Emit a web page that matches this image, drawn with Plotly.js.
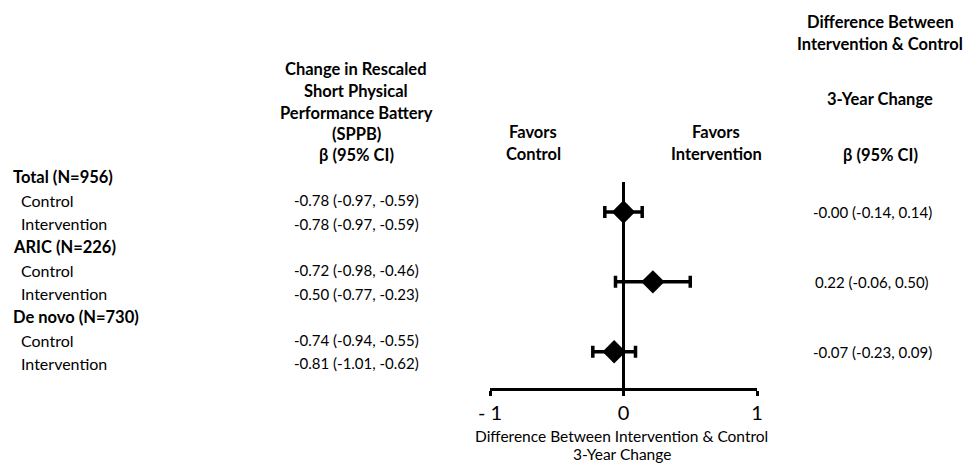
<!DOCTYPE html>
<html>
<head>
<meta charset="utf-8">
<script src="https://cdn.plot.ly/plotly-3.0.1.min.js"></script>
<style>html,body{margin:0;padding:0;background:#fff}#chart{width:972px;height:464px}</style>
</head>
<body>
<div id="chart"></div>
<script>
// ---- data ----
const groups = ['Total (N=956)', 'ARIC (N=226)', 'De novo (N=730)'];
const arms = ['Control', 'Intervention'];
const sppbBeta = [-0.78, -0.78, -0.72, -0.50, -0.74, -0.81];
const sppbLo   = [-0.97, -0.97, -0.98, -0.77, -0.94, -1.01];
const sppbHi   = [-0.59, -0.59, -0.46, -0.23, -0.55, -0.62];
const diffBeta = [-0.00, 0.22, -0.07];
const diffLo   = [-0.14, -0.06, -0.23];
const diffHi   = [0.14, 0.50, 0.09];
const xTicks = [-1, 0, 1];

// ---- helpers ----
const W = 972, H = 464;
const FONT = 'Lato, "Open Sans", sans-serif';
const fmt = v => ((v < 0 || Object.is(v, -0)) ? '-' : '') + Math.abs(v).toFixed(2);
const ci = (b, l, h) => fmt(b) + ' (' + fmt(l) + ', ' + fmt(h) + ')';
const ROW0 = 177, ROWH = 23.3;
const pyToRow = p => (p - ROW0) / ROWH;
const px = p => p / W;
const py = p => 1 - p / H;

const rowOfGroup = g => g * 3;
const pointRows = groups.map((g, k) => rowOfGroup(k) + 1.5);

const ann = [];
const txt = (x, yRow, text, opts) => ann.push(Object.assign({
  xref: 'paper', yref: 'y', x: x, y: yRow, text: text, showarrow: false,
  xanchor: 'left', yanchor: 'middle',
  font: {family: FONT, size: 16, color: '#000'}
}, opts || {}));
const hdr = (x, p, text, opts) => ann.push(Object.assign({
  xref: 'paper', yref: 'paper', x: x, y: py(p), text: '<b>' + text + '</b>', showarrow: false,
  xanchor: 'center', yanchor: 'middle',
  font: {family: FONT, size: 16.5, color: '#000'}
}, opts || {}));
const numFont = {family: FONT, size: 15, color: '#000'};

groups.forEach((g, k) => {
  const r = rowOfGroup(k);
  txt(px(11), r, '<b>' + g + '</b>', {font: {family: FONT, size: 16.5, color: '#000'}});
  arms.forEach((a, j) => {
    const idx = k * 2 + j;
    txt(px(19), r + 1 + j, a);
    txt(px(356), r + 1 + j, ci(sppbBeta[idx], sppbLo[idx], sppbHi[idx]), {xanchor: 'center', font: numFont});
  });
  txt(px(872), pointRows[k], ci(diffBeta[k], diffLo[k], diffHi[k]), {xanchor: 'center', font: numFont});
});

// column headers
['Change in Rescaled', 'Short Physical', 'Performance Battery', '(SPPB)', 'β (95% CI)']
  .forEach((t, i) => hdr(px(356), [69, 91, 113, 134, 155][i], t));
hdr(px(533), 132, 'Favors');
hdr(px(533), 154, 'Control');
hdr(px(716), 132, 'Favors');
hdr(px(716), 154, 'Intervention');
hdr(px(880), 22, 'Difference Between');
hdr(px(880), 44, 'Intervention &amp; Control');
hdr(px(880), 99, '3-Year Change');
hdr(px(880), 155, 'β (95% CI)');

// x-axis title (two lines)
const titleFont = {family: FONT, size: 15.5, color: '#000'};
ann.push({xref: 'paper', yref: 'paper', x: px(621), y: py(436), text: 'Difference Between Intervention &amp; Control',
  showarrow: false, xanchor: 'center', yanchor: 'middle', font: titleFont});
ann.push({xref: 'paper', yref: 'paper', x: px(622), y: py(454), text: '3-Year Change',
  showarrow: false, xanchor: 'center', yanchor: 'middle', font: titleFont});

const trace = {
  type: 'scatter', mode: 'markers',
  x: diffBeta, y: pointRows,
  marker: {symbol: 'diamond', size: 18, color: '#000'},
  error_x: {type: 'data', symmetric: false,
    array: diffHi.map((h, i) => h - diffBeta[i]),
    arrayminus: diffBeta.map((b, i) => b - diffLo[i]),
    color: '#000', thickness: 3.5, width: 6},
  hoverinfo: 'x+y', showlegend: false
};

const axisRow = pyToRow(389);
const layout = {
  width: W, height: H,
  margin: {l: 0, r: 0, t: 0, b: 0},
  paper_bgcolor: '#fff', plot_bgcolor: 'rgba(0,0,0,0)',
  showlegend: false,
  xaxis: {
    domain: [px(490), px(757)], range: [-1, 1],
    anchor: 'free', position: py(389),
    tickvals: xTicks, ticktext: xTicks.map(v => v < 0 ? '- ' + Math.abs(v) : String(v)),
    ticks: 'outside', ticklen: 5, tickwidth: 3, tickcolor: '#000',
    showline: true, linewidth: 3, linecolor: '#000',
    showgrid: false, zeroline: false,
    tickfont: {family: FONT, size: 20, color: '#000'}
  },
  yaxis: {
    domain: [0, 1], range: [pyToRow(H), pyToRow(0)],
    visible: false, showgrid: false, zeroline: false
  },
  shapes: [{type: 'line', xref: 'x', yref: 'y', x0: 0, x1: 0,
    y0: pyToRow(182), y1: axisRow, line: {color: '#000', width: 3}}],
  annotations: ann
};

Plotly.newPlot('chart', [trace], layout, {displayModeBar: false, staticPlot: true});
</script>
</body>
</html>
